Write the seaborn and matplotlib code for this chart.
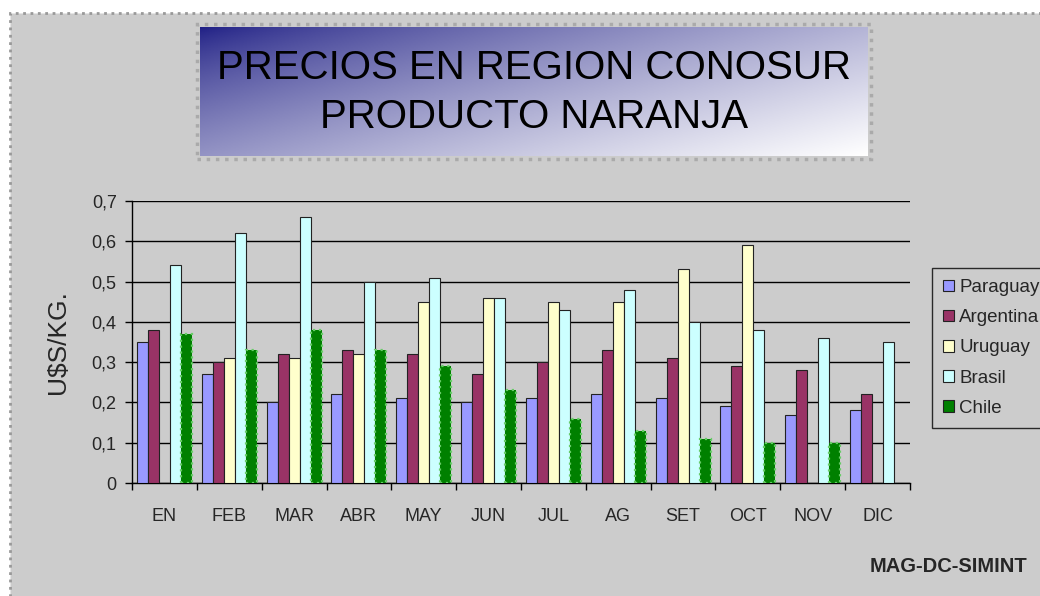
import numpy as np
import pandas as pd
import seaborn as sns
import matplotlib.pyplot as plt
from matplotlib.patches import Rectangle
from matplotlib.ticker import FuncFormatter, FixedLocator

# precios mensuales U$S/kg
meses = ['EN', 'FEB', 'MAR', 'ABR', 'MAY', 'JUN', 'JUL', 'AG', 'SET', 'OCT', 'NOV', 'DIC']
paraguay = [0.35, 0.27, 0.20, 0.22, 0.21, 0.20, 0.21, 0.22, 0.21, 0.19, 0.17, 0.18]
argentina = [0.38, 0.30, 0.32, 0.33, 0.32, 0.27, 0.30, 0.33, 0.31, 0.29, 0.28, 0.22]
uruguay = [np.nan, 0.31, 0.31, 0.32, 0.45, 0.46, 0.45, 0.45, 0.53, 0.59, np.nan, np.nan]
brasil = [0.54, 0.62, 0.66, 0.50, 0.51, 0.46, 0.43, 0.48, 0.40, 0.38, 0.36, 0.35]
chile = [0.37, 0.33, 0.38, 0.33, 0.29, 0.23, 0.16, 0.13, 0.11, 0.10, 0.10, np.nan]

paises = ['Paraguay', 'Argentina', 'Uruguay', 'Brasil', 'Chile']
colores = ['#9999FF', '#993366', '#FFFFCC', '#CCFFFF', '#008000']

df = pd.DataFrame({'mes': meses, 'Paraguay': paraguay, 'Argentina': argentina,
                   'Uruguay': uruguay, 'Brasil': brasil, 'Chile': chile})
df = df.melt(id_vars='mes', var_name='pais', value_name='precio').dropna()

sns.set_style('white')
plt.rcParams['font.family'] = ['Liberation Sans', 'DejaVu Sans']

fig = plt.figure(figsize=(10.4, 5.96), dpi=100, facecolor='white')

# fondo gris del area del grafico con borde punteado
fig.patches.append(Rectangle((10 / 1040, -0.05), 1.1, (596 - 13) / 596 + 0.05,
                             transform=fig.transFigure, facecolor='#cccccc',
                             edgecolor='#999999', linestyle=':', linewidth=2, zorder=-10))

ax = fig.add_axes([132 / 1040, (596 - 483) / 596, 778 / 1040, 282 / 596])
ax.set_facecolor('#cccccc')

sns.barplot(data=df, x='mes', y='precio', hue='pais', order=meses, hue_order=paises,
            palette=colores, saturation=1, width=0.85, edgecolor='#222222',
            linewidth=0.8, errorbar=None, ax=ax, zorder=3)

# borde punteado para Chile
for bar in ax.containers[4]:
    bar.set_edgecolor('#66cc66')
    bar.set_linestyle(':')
    bar.set_linewidth(1.6)

ax.set_ylim(0, 0.7)
ax.set_xlim(-0.5, 11.5)
ax.set_yticks(np.arange(0, 0.71, 0.1))
ax.yaxis.set_major_formatter(FuncFormatter(lambda v, p: '0' if abs(v) < 1e-9 else f'{v:.1f}'.replace('.', ',')))
ax.grid(axis='y', color='black', linewidth=1, zorder=0)
ax.set_axisbelow(True)
for s in ['top', 'right']:
    ax.spines[s].set_visible(False)
for s in ['left', 'bottom']:
    ax.spines[s].set_color('black')
    ax.spines[s].set_linewidth(1)

ax.xaxis.set_minor_locator(FixedLocator(np.arange(-0.5, 12, 1)))
ax.tick_params(axis='x', which='major', length=0, pad=18, labelsize=13)
ax.tick_params(axis='x', which='minor', length=5, width=1, color='black', direction='out', bottom=True)
ax.tick_params(axis='y', length=5, width=1, color='black', direction='out', left=True, labelsize=13, pad=6)

ax.set_xlabel('')
ax.set_ylabel('U$S/KG.', fontsize=19)
ax.yaxis.set_label_coords(-0.08, 0.5)

leg = ax.legend(loc='upper left', bbox_to_anchor=(932 / 1040, (596 - 268) / 596),
                bbox_transform=fig.transFigure, fontsize=13.5, frameon=True, fancybox=False,
                handlelength=0.55, handleheight=0.55, handletextpad=0.3, labelspacing=0.7,
                borderpad=0.6, borderaxespad=0)
leg.get_frame().set_facecolor('#cccccc')
leg.get_frame().set_edgecolor('black')
leg.get_frame().set_linewidth(1)

# caja del titulo con degradado
tax = fig.add_axes([200 / 1040, (596 - 156) / 596, 668 / 1040, 129 / 596])
gx, gy = np.meshgrid(np.linspace(0, 1, 300), np.linspace(0, 1, 80))
grad = np.clip((gx * 0.7 + gy * 0.5) / 1.2, 0, 1) ** 0.75
c0 = np.array([0.12, 0.12, 0.52])
c1 = np.array([1.0, 1.0, 1.0])
img = c0[None, None, :] * (1 - grad[..., None]) + c1[None, None, :] * grad[..., None]
tax.imshow(img, aspect='auto', extent=[0, 1, 0, 1], origin='upper')
tax.set_xlim(0, 1)
tax.set_ylim(0, 1)
tax.axis('off')
tax.text(0.5, 0.597, 'PRECIOS EN REGION CONOSUR', ha='center', va='baseline', fontsize=29, color='black')
tax.text(0.5, 0.217, 'PRODUCTO NARANJA', ha='center', va='baseline', fontsize=29, color='black')
fig.patches.append(Rectangle((197 / 1040, (596 - 159) / 596), 674 / 1040, 135 / 596,
                             transform=fig.transFigure, facecolor='none',
                             edgecolor='#aaaaaa', linestyle=':', linewidth=2.5, zorder=5))

fig.text(1027 / 1040, (596 - 566) / 596, 'MAG-DC-SIMINT', ha='right', va='center',
         fontsize=14.5, fontweight='bold')

fig.savefig('out.png', dpi=100, facecolor=fig.get_facecolor())
